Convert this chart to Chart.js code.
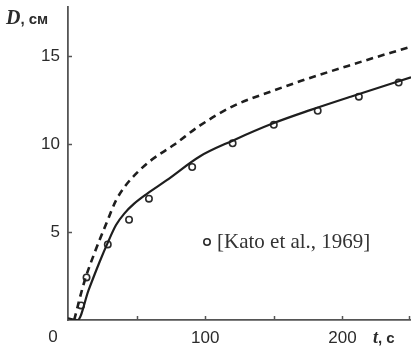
<!DOCTYPE html>
<html>
<head>
<meta charset="utf-8">
<script src="https://cdn.jsdelivr.net/npm/chart.js@4/dist/chart.umd.min.js"></script>
<style>
html,body{margin:0;padding:0;background:#fff;}
#wrap{width:411px;height:352px;position:relative;}
</style>
</head>
<body>
<div id="wrap"><canvas id="c" width="411" height="352"></canvas></div>
<script>
// Data
const pointsT = [9.5, 13.5, 29, 44.5, 59, 90.5, 120, 150, 182, 212, 241];
const pointsD = [0.83, 2.42, 4.3, 5.7, 6.9, 8.7, 10.05, 11.1, 11.9, 12.7, 13.5];

const solidT = [0, 7, 15, 23, 29, 35, 41, 48, 58, 72, 96, 120, 150, 177, 206, 250];
const solidD = [0.1, 0, 1.7, 3.3, 4.4, 5.4, 6.05, 6.6, 7.2, 7.95, 9.3, 10.2, 11.2, 11.95, 12.7, 13.8];

const dashT = [4.5, 12, 20, 28, 35, 42, 50, 60, 77, 96, 120, 150, 170, 206, 250];
const dashD = [0, 2.2, 3.95, 5.5, 6.8, 7.65, 8.35, 9.05, 9.95, 11.05, 12.15, 13.05, 13.6, 14.5, 15.55];

const yTicks = [5, 10, 15];
const xTicks = [50, 100, 150, 200, 250];
const xLabels = [100, 200];
const yTitle = 'D';
const yUnit = ', см';
const xTitle = 't';
const xUnit = ', с';
const legendText = '[Kato et al., 1969]';

const zip = (a, b) => a.map((v, i) => ({x: v, y: b[i]}));
const INK = '#2b2b2b';
const AXIS = '#555';

const decor = {
  id: 'decor',
  afterDraw(chart) {
    const ctx = chart.ctx;
    const xs = chart.scales.x, ys = chart.scales.y;
    const ca = chart.chartArea;
    ctx.save();
    // inner tick marks
    ctx.strokeStyle = AXIS;
    ctx.lineWidth = 1.5;
    yTicks.forEach(v => {
      const py = Math.round(ys.getPixelForValue(v)) + 0.5;
      ctx.beginPath(); ctx.moveTo(ca.left, py); ctx.lineTo(ca.left + 4, py); ctx.stroke();
    });
    xTicks.forEach(v => {
      const px = Math.min(Math.round(xs.getPixelForValue(v)) + 0.5, ca.right - 1.5);
      ctx.beginPath(); ctx.moveTo(px, ca.bottom); ctx.lineTo(px, ca.bottom - 4); ctx.stroke();
    });
    // corner zero
    ctx.fillStyle = INK;
    ctx.font = '17px "Liberation Sans", Arial, sans-serif';
    ctx.textAlign = 'center';
    ctx.textBaseline = 'middle';
    ctx.fillText('0', ca.left - 15, ca.bottom + 17);
    // y title
    ctx.textAlign = 'left';
    ctx.textBaseline = 'alphabetic';
    ctx.font = 'italic bold 20px "Liberation Serif", serif';
    ctx.fillText(yTitle, 6, 24);
    let w = ctx.measureText(yTitle).width;
    ctx.font = 'bold 15px "Liberation Sans", sans-serif';
    ctx.fillText(yUnit, 6 + w, 24);
    // x title
    ctx.font = 'italic bold 18px "Liberation Serif", serif';
    ctx.fillText(xTitle, 373, ca.bottom + 23);
    w = ctx.measureText(xTitle).width;
    ctx.font = 'bold 15px "Liberation Sans", sans-serif';
    ctx.fillText(xUnit, 373 + w, ca.bottom + 23);
    // legend
    const lx = 207, ly = 242;
    ctx.beginPath();
    ctx.arc(lx, ly, 3.2, 0, Math.PI * 2);
    ctx.fillStyle = '#fff'; ctx.fill();
    ctx.strokeStyle = INK; ctx.lineWidth = 1.6; ctx.stroke();
    ctx.fillStyle = '#333';
    ctx.font = '21px "Liberation Serif", serif';
    ctx.textBaseline = 'middle';
    ctx.fillText(legendText, lx + 10, ly);
    ctx.restore();
  }
};

new Chart(document.getElementById('c'), {
  type: 'scatter',
  data: {
    datasets: [
      {
        label: 'model',
        data: zip(solidT, solidD),
        showLine: true,
        borderColor: '#1e1e1e',
        borderWidth: 2.2,
        pointRadius: 0,
        cubicInterpolationMode: 'monotone',
        fill: false
      },
      {
        label: 'model 2',
        data: zip(dashT, dashD),
        showLine: true,
        borderColor: '#1e1e1e',
        borderWidth: 2.6,
        borderDash: [7, 5],
        pointRadius: 0,
        cubicInterpolationMode: 'monotone',
        fill: false
      },
      {
        label: legendText,
        data: zip(pointsT, pointsD),
        showLine: false,
        pointStyle: 'circle',
        pointRadius: 3.2,
        pointBorderWidth: 1.6,
        pointBackgroundColor: '#fff',
        pointBorderColor: INK
      }
    ]
  },
  options: {
    responsive: false,
    animation: false,
    devicePixelRatio: 1,
    layout: {autoPadding: false, padding: {top: 7, left: 0, right: 0, bottom: 0}},
    plugins: {legend: {display: false}, tooltip: {enabled: false}},
    scales: {
      x: {
        type: 'linear',
        min: 0, max: 250,
        afterFit: s => { s.height = 32; s.paddingLeft = 0; s.paddingRight = 0; },
        grid: {display: false, drawTicks: false},
        border: {display: true, color: AXIS, width: 1.8},
        ticks: {
          stepSize: 50,
          includeBounds: false,
          padding: 8,
          color: INK,
          font: {family: '"Liberation Sans", Arial, sans-serif', size: 17},
          maxRotation: 0,
          autoSkip: false,
          callback: v => xLabels.includes(v) ? String(v) : ''
        }
      },
      y: {
        type: 'linear',
        min: 0, max: 17.8,
        afterFit: s => { s.width = 68; s.paddingTop = 0; s.paddingBottom = 0; },
        grid: {display: false, drawTicks: false},
        border: {display: true, color: AXIS, width: 1.8},
        ticks: {
          stepSize: 5,
          includeBounds: false,
          padding: 8,
          color: INK,
          font: {family: '"Liberation Sans", Arial, sans-serif', size: 17},
          callback: v => yTicks.includes(v) ? String(v) : ''
        }
      }
    }
  },
  plugins: [decor]
});
</script>
</body>
</html>
